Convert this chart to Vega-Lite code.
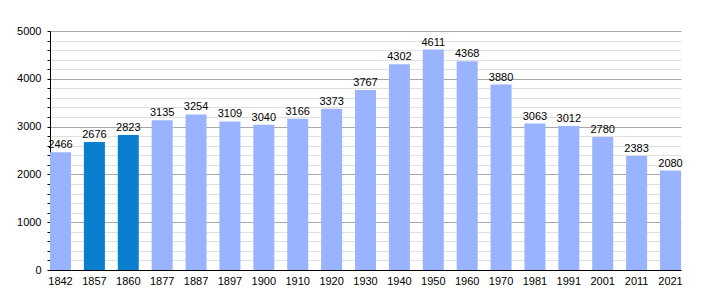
{
  "$schema": "https://vega.github.io/schema/vega-lite/v6.json",
  "width": 631,
  "height": 239,
  "autosize": "none",
  "padding": {"left": 50, "top": 31, "right": 29, "bottom": 30},
  "background": "white",
  "config": {
    "view": {"stroke": null},
    "font": "Liberation Sans",
    "axis": {"labelFont": "Liberation Sans", "labelColor": "#000", "labelFontSize": 11}
  },
  "data": {
    "values": [
      {"year": "1842", "pop": 2466, "kind": "a"},
      {"year": "1857", "pop": 2676, "kind": "b"},
      {"year": "1860", "pop": 2823, "kind": "b"},
      {"year": "1877", "pop": 3135, "kind": "a"},
      {"year": "1887", "pop": 3254, "kind": "a"},
      {"year": "1897", "pop": 3109, "kind": "a"},
      {"year": "1900", "pop": 3040, "kind": "a"},
      {"year": "1910", "pop": 3166, "kind": "a"},
      {"year": "1920", "pop": 3373, "kind": "a"},
      {"year": "1930", "pop": 3767, "kind": "a"},
      {"year": "1940", "pop": 4302, "kind": "a"},
      {"year": "1950", "pop": 4611, "kind": "a"},
      {"year": "1960", "pop": 4368, "kind": "a"},
      {"year": "1970", "pop": 3880, "kind": "a"},
      {"year": "1981", "pop": 3063, "kind": "a"},
      {"year": "1991", "pop": 3012, "kind": "a"},
      {"year": "2001", "pop": 2780, "kind": "a"},
      {"year": "2011", "pop": 2383, "kind": "a"},
      {"year": "2021", "pop": 2080, "kind": "a"}
    ]
  },
  "encoding": {
    "x": {
      "field": "year", "type": "ordinal", "sort": null,
      "scale": {"paddingInner": 0.38, "paddingOuter": 0},
      "axis": {"title": null, "labelAngle": 0, "ticks": false, "labelPadding": 5, "domainColor": "#000", "domainWidth": 1}
    },
    "y": {
      "field": "pop", "type": "quantitative",
      "scale": {"domain": [0, 5000], "nice": false},
      "axis": {
        "title": null,
        "values": [0,200,400,600,800,1000,1200,1400,1600,1800,2000,2200,2400,2600,2800,3000,3200,3400,3600,3800,4000,4200,4400,4600,4800,5000],
        "format": "d",
        "labelExpr": "datum.value % 1000 === 0 ? datum.label : ''",
        "grid": true,
        "gridColor": {"condition": {"test": "datum.value % 1000 === 0", "value": "#a8a8a8"}, "value": "#e0e0e0"},
        "gridWidth": 1,
        "tickColor": "#000",
        "tickSize": 3,
        "labelPadding": 6,
        "domainColor": "#000",
        "domainWidth": 1
      }
    }
  },
  "layer": [
    {
      "mark": {"type": "bar"},
      "encoding": {
        "color": {
          "field": "kind", "type": "nominal",
          "scale": {"domain": ["a", "b"], "range": ["#99b3ff", "#0a7fd0"]},
          "legend": null
        }
      }
    },
    {
      "mark": {"type": "text", "baseline": "bottom", "dy": -2, "fontSize": 11, "color": "#000", "font": "Liberation Sans"},
      "encoding": {"text": {"field": "pop", "type": "quantitative", "format": "d"}}
    }
  ]
}
